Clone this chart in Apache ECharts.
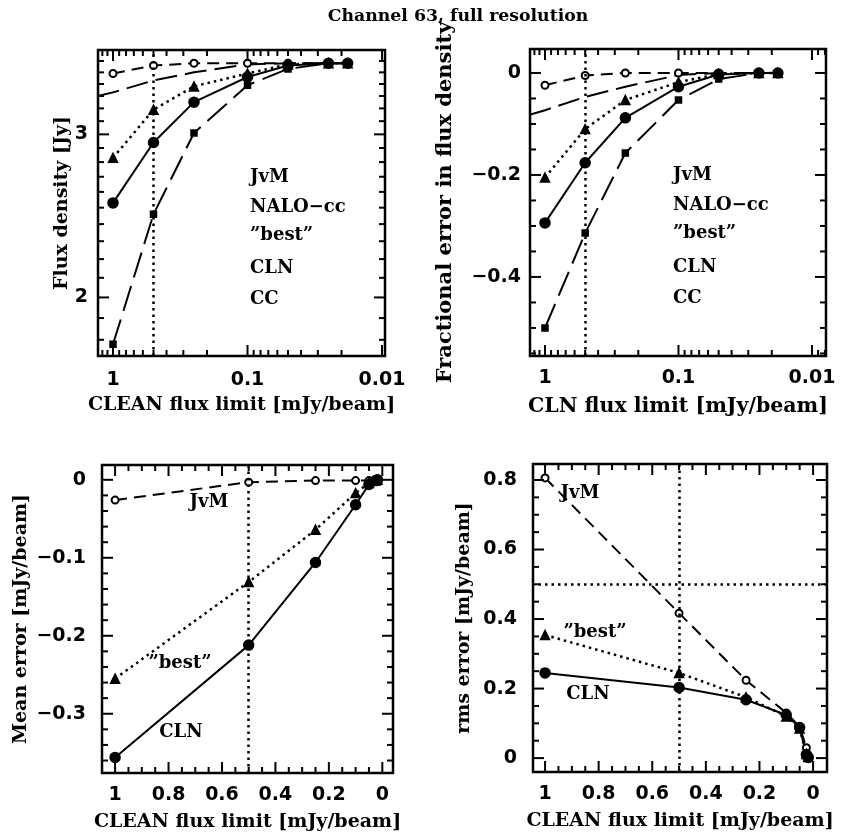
<!DOCTYPE html>
<html>
<head>
<meta charset="utf-8">
<title>Channel 63, full resolution</title>
<script src="https://cdn.jsdelivr.net/npm/echarts@6/dist/echarts.min.js"></script>
<style>
  html, body { margin: 0; padding: 0; background: #fff; }
  #chart { width: 844px; height: 836px; }
</style>
</head>
<body>
<div id="chart"></div>
<script>
// CLEAN flux limits [mJy/beam] at which the deconvolutions were stopped
const cleanLimits = [1, 0.5, 0.25, 0.1, 0.05, 0.025, 0.018];
const naloLimits = [1.3, 1, 0.5, 0.25, 0.1, 0.05, 0.025, 0.018];

// Total flux density [Jy]
const fluxJvM  = [3.49, 3.56, 3.58, 3.58, 3.58, 3.58, 3.58];
const fluxNalo = [3.30, 3.33, 3.43, 3.50, 3.57, 3.58, 3.58, 3.58];
const fluxBest = [2.83, 3.19, 3.38, 3.49, 3.57, 3.58, 3.58];
const fluxCln  = [2.53, 2.94, 3.25, 3.46, 3.56, 3.58, 3.58];
const fluxCc   = [1.78, 2.46, 3.01, 3.39, 3.53, 3.58, 3.58];

// Fractional error in flux density
const fracJvM  = [-0.024, -0.005, 0, 0, 0, 0, 0];
const fracNalo = [-0.082, -0.073, -0.047, -0.027, -0.004, 0, 0, 0];
const fracBest = [-0.205, -0.110, -0.053, -0.018, -0.002, 0, 0];
const fracCln  = [-0.294, -0.176, -0.088, -0.027, -0.003, 0, 0];
const fracCc   = [-0.500, -0.314, -0.157, -0.053, -0.012, 0, 0];

// Mean error [mJy/beam]
const meanJvM  = [-0.026, -0.003, -0.001, -0.001, -0.001, 0, 0];
const meanBest = [-0.255, -0.131, -0.064, -0.017, -0.004, -0.001, 0];
const meanCln  = [-0.356, -0.212, -0.106, -0.032, -0.006, -0.001, 0];

// rms error [mJy/beam]
const rmsJvM  = [0.806, 0.417, 0.224, 0.130, 0.090, 0.030, 0.005];
const rmsBest = [0.354, 0.245, 0.175, 0.120, 0.085, 0.012, 0.003];
const rmsCln  = [0.245, 0.203, 0.168, 0.124, 0.088, 0.010, 0.002];

// Reference levels drawn as dotted lines
const refLimit = 0.5;
const refRms = 0.5;

// Tick values and labels
const logMajor = [1, 0.1, 0.01];
const logMajorLabels = ['1', '0.1', '0.01'];
const logMinorLeft = [1.2, 1.1, 0.9, 0.8, 0.7, 0.6, 0.5, 0.4, 0.3, 0.2,
  0.09, 0.08, 0.07, 0.06, 0.05, 0.04, 0.03, 0.02];
const logMinorRight = logMinorLeft.concat([0.009, 0.008]);

const fluxMajor = [2, 3];
const fluxLabels = ['2', '3'];
const fluxMinor = [1.8, 1.9, 2.1, 2.2, 2.3, 2.4, 2.5, 2.6, 2.7, 2.8, 2.9,
  3.1, 3.2, 3.3, 3.4, 3.5, 3.6];

const fracMajor = [0, -0.2, -0.4];
const fracLabels = ['0', '\u22120.2', '\u22120.4'];
const fracMinor = [-0.05, -0.1, -0.15, -0.25, -0.3, -0.35, -0.45, -0.5, -0.55];

const limMajor = [1, 0.8, 0.6, 0.4, 0.2, 0];
const limLabels = ['1', '0.8', '0.6', '0.4', '0.2', '0'];
const limMinor = [0.95, 0.9, 0.85, 0.75, 0.7, 0.65, 0.55, 0.5, 0.45,
  0.35, 0.3, 0.25, 0.15, 0.1, 0.05];

const meanMajor = [0, -0.1, -0.2, -0.3];
const meanLabels = ['0', '\u22120.1', '\u22120.2', '\u22120.3'];
const meanMinor = [-0.02, -0.04, -0.06, -0.08, -0.12, -0.14, -0.16, -0.18,
  -0.22, -0.24, -0.26, -0.28, -0.32, -0.34, -0.36];

const rmsMajor = [0, 0.2, 0.4, 0.6, 0.8];
const rmsLabels = ['0', '0.2', '0.4', '0.6', '0.8'];
const rmsMinor = [0.05, 0.1, 0.15, 0.25, 0.3, 0.35, 0.45, 0.5, 0.55,
  0.65, 0.7, 0.75];

// Curve names
const nameJvM = 'JvM';
const nameNalo = 'NALO\u2212cc';
const nameBest = '\u201Dbest\u201D';
const nameCln = 'CLN';
const nameCc = 'CC';

// ---- styling ----
const INK = '#000';
const SERIF = 'DejaVu Serif';
const TICK_FONT = 'bold 19px "DejaVu Sans"';
const LABEL_FONT = 'bold 18px "DejaVu Serif"';
const TICK_MAJOR = 11;
const TICK_MINOR = 6;

const dash = {
  jvm:  { type: [12, 7], width: 2 },
  nalo: { type: [22, 8], width: 2 },
  best: { type: [2.5, 4], width: 2.5 },
  cln:  { type: 'solid', width: 2 },
  cc:   { type: [26, 9], width: 2 }
};

const pts = (xs, ys) => xs.map((x, i) => [x, ys[i]]);

function curve(gi, name, data, style, symbol, size) {
  return {
    type: 'line', name: name, xAxisIndex: gi, yAxisIndex: gi,
    data: data, symbol: symbol, symbolSize: size || 0,
    showSymbol: symbol !== 'none',
    lineStyle: Object.assign({ color: INK }, style),
    itemStyle: { color: INK, borderColor: INK, borderWidth: 1.5 },
    emphasis: { disabled: true }, animation: false, z: 3
  };
}

function refLines(xVal, yVal) {
  const data = [{ xAxis: xVal }];
  if (yVal !== undefined) data.push({ yAxis: yVal });
  return {
    silent: true, symbol: 'none', label: { show: false },
    lineStyle: { color: INK, type: [2.5, 4], width: 2.5 },
    emphasis: { disabled: true }, animation: false, data: data
  };
}

// Tick marks on all four sides of a frame, with labels on the outer axis
function ticks(gi, axis, major, labels, minor, ref, labelGap) {
  const rows = [];
  major.forEach((v, i) => rows.push(axis === 'x' ? [v, ref, 1, i] : [ref, v, 1, i]));
  minor.forEach(v => rows.push(axis === 'x' ? [v, ref, 0, -1] : [ref, v, 0, -1]));
  return {
    type: 'custom', xAxisIndex: gi, yAxisIndex: gi, silent: true,
    animation: false, clip: false, z: 6,
    encode: { x: 0, y: 1 },
    data: rows,
    renderItem: function (params, api) {
      const cs = params.coordSys;
      const isMajor = api.value(2) === 1;
      const len = isMajor ? TICK_MAJOR : TICK_MINOR;
      const p = api.coord([api.value(0), api.value(1)]);
      const st = { stroke: INK, lineWidth: 2 };
      const kids = [];
      if (axis === 'x') {
        const x = p[0], b = cs.y + cs.height, t = cs.y;
        kids.push({ type: 'line', shape: { x1: x, y1: b, x2: x, y2: b - len }, style: st });
        kids.push({ type: 'line', shape: { x1: x, y1: t, x2: x, y2: t + len }, style: st });
        if (isMajor) {
          kids.push({ type: 'text', style: {
            text: labels[api.value(3)], x: x, y: b + labelGap,
            align: 'center', verticalAlign: 'middle', font: TICK_FONT, fill: INK } });
        }
      } else {
        const y = p[1], l = cs.x, r = cs.x + cs.width;
        kids.push({ type: 'line', shape: { x1: l, y1: y, x2: l + len, y2: y }, style: st });
        kids.push({ type: 'line', shape: { x1: r, y1: y, x2: r - len, y2: y }, style: st });
        if (isMajor) {
          kids.push({ type: 'text', style: {
            text: labels[api.value(3)], x: l - labelGap, y: y,
            align: 'right', verticalAlign: 'middle', font: TICK_FONT, fill: INK } });
        }
      }
      return { type: 'group', children: kids };
    }
  };
}

const nameStyle = (size) => ({ fontFamily: SERIF, fontWeight: 'bold', fontSize: size, color: INK });
const hidden = {
  axisLine: { show: false }, axisTick: { show: false },
  axisLabel: { show: false }, splitLine: { show: false }
};
const frame = { show: true, borderColor: INK, borderWidth: 2.5, backgroundColor: 'rgba(0,0,0,0)' };

function xAxis(gi, type, min, max, name, gap, size) {
  return Object.assign({ gridIndex: gi, type: type, min: min, max: max, inverse: true,
    name: name, nameLocation: 'middle', nameGap: gap, nameTextStyle: nameStyle(size) },
    type === 'log' ? { logBase: 10 } : {}, hidden);
}
function yAxis(gi, type, min, max, name, gap, size) {
  return Object.assign({ gridIndex: gi, type: type, min: min, max: max,
    name: name, nameLocation: 'middle', nameGap: gap, nameTextStyle: nameStyle(size) },
    type === 'log' ? { logBase: 10 } : {}, hidden);
}

function tag(text, x, y, align) {
  return { type: 'text', x: x, y: y, silent: true,
    style: { text: text, font: LABEL_FONT, fill: INK, align: align || 'left', verticalAlign: 'middle' } };
}

const option = {
  backgroundColor: '#fff',
  animation: false,
  title: {
    text: 'Channel 63, full resolution', left: 453, top: 3, textAlign: 'center',
    textStyle: { fontFamily: SERIF, fontWeight: 'bold', fontSize: 17.3, color: INK }
  },
  grid: [
    Object.assign({ left: 98, top: 50, width: 287, height: 306 }, frame),
    Object.assign({ left: 530, top: 49, width: 296, height: 307 }, frame),
    Object.assign({ left: 102, top: 465, width: 291, height: 308 }, frame),
    Object.assign({ left: 533, top: 464, width: 294, height: 308 }, frame)
  ],
  xAxis: [
    xAxis(0, 'log', 0.0095, 1.293, 'CLEAN flux limit [mJy/beam]', 40, 19),
    xAxis(1, 'log', 0.00785, 1.295, 'CLN flux limit [mJy/beam]', 40, 20.5),
    xAxis(2, 'value', -0.04, 1.049, 'CLEAN flux limit [mJy/beam]', 40, 19),
    xAxis(3, 'value', -0.052, 1.045, 'CLEAN flux limit [mJy/beam]', 40, 19)
  ],
  yAxis: [
    yAxis(0, 'log', 1.729, 3.70, 'Flux density [Jy]', 26, 19),
    yAxis(1, 'value', -0.555, 0.047, 'Fractional error in flux density', 74, 21),
    yAxis(2, 'value', -0.376, 0.019, 'Mean error [mJy/beam]', 71, 19),
    yAxis(3, 'value', -0.04, 0.846, 'rms error [mJy/beam]', 59, 19)
  ],
  series: [
    // flux density
    curve(0, nameNalo, pts(naloLimits, fluxNalo), dash.nalo, 'none'),
    curve(0, nameJvM, pts(cleanLimits, fluxJvM), dash.jvm, 'emptyCircle', 7),
    curve(0, nameCc, pts(cleanLimits, fluxCc), dash.cc, 'rect', 6),
    curve(0, nameBest, pts(cleanLimits, fluxBest), dash.best, 'triangle', 9),
    Object.assign(curve(0, nameCln, pts(cleanLimits, fluxCln), dash.cln, 'circle', 10),
      { markLine: refLines(refLimit) }),
    ticks(0, 'x', logMajor, logMajorLabels, logMinorLeft, 2, 24),
    ticks(0, 'y', fluxMajor, fluxLabels, fluxMinor, 1, 10),

    // fractional error
    curve(1, nameNalo, pts(naloLimits, fracNalo), dash.nalo, 'none'),
    curve(1, nameJvM, pts(cleanLimits, fracJvM), dash.jvm, 'emptyCircle', 7),
    curve(1, nameCc, pts(cleanLimits, fracCc), dash.cc, 'rect', 6),
    curve(1, nameBest, pts(cleanLimits, fracBest), dash.best, 'triangle', 9),
    Object.assign(curve(1, nameCln, pts(cleanLimits, fracCln), dash.cln, 'circle', 10),
      { markLine: refLines(refLimit) }),
    ticks(1, 'x', logMajor, logMajorLabels, logMinorRight, 0, 22),
    ticks(1, 'y', fracMajor, fracLabels, fracMinor, 1, 9),

    // mean error
    curve(2, nameJvM, pts(cleanLimits, meanJvM), dash.jvm, 'emptyCircle', 7),
    curve(2, nameBest, pts(cleanLimits, meanBest), dash.best, 'triangle', 9),
    Object.assign(curve(2, nameCln, pts(cleanLimits, meanCln), dash.cln, 'circle', 10),
      { markLine: refLines(refLimit) }),
    ticks(2, 'x', limMajor, limLabels, limMinor, 0, 22),
    ticks(2, 'y', meanMajor, meanLabels, meanMinor, 0.5, 16),

    // rms error
    curve(3, nameJvM, pts(cleanLimits, rmsJvM), dash.jvm, 'emptyCircle', 7),
    curve(3, nameBest, pts(cleanLimits, rmsBest), dash.best, 'triangle', 9),
    Object.assign(curve(3, nameCln, pts(cleanLimits, rmsCln), dash.cln, 'circle', 10),
      { markLine: refLines(refLimit, refRms) }),
    ticks(3, 'x', limMajor, limLabels, limMinor, 0, 22),
    ticks(3, 'y', rmsMajor, rmsLabels, rmsMinor, 0.5, 16)
  ],
  graphic: [
    tag(nameJvM, 250, 177), tag(nameNalo, 250, 207), tag(nameBest, 250, 235),
    tag(nameCln, 250, 268), tag(nameCc, 250, 299),
    tag(nameJvM, 673, 175), tag(nameNalo, 673, 205), tag(nameBest, 673, 233),
    tag(nameCln, 673, 267), tag(nameCc, 673, 298),
    tag(nameJvM, 209, 502, 'center'), tag(nameBest, 180, 663, 'center'), tag(nameCln, 181, 732, 'center'),
    tag(nameJvM, 580, 493, 'center'), tag(nameBest, 595, 632, 'center'), tag(nameCln, 588, 694, 'center')
  ]
};

const chart = echarts.init(document.getElementById('chart'), null, { renderer: 'canvas' });
chart.setOption(option);
</script>
</body>
</html>
